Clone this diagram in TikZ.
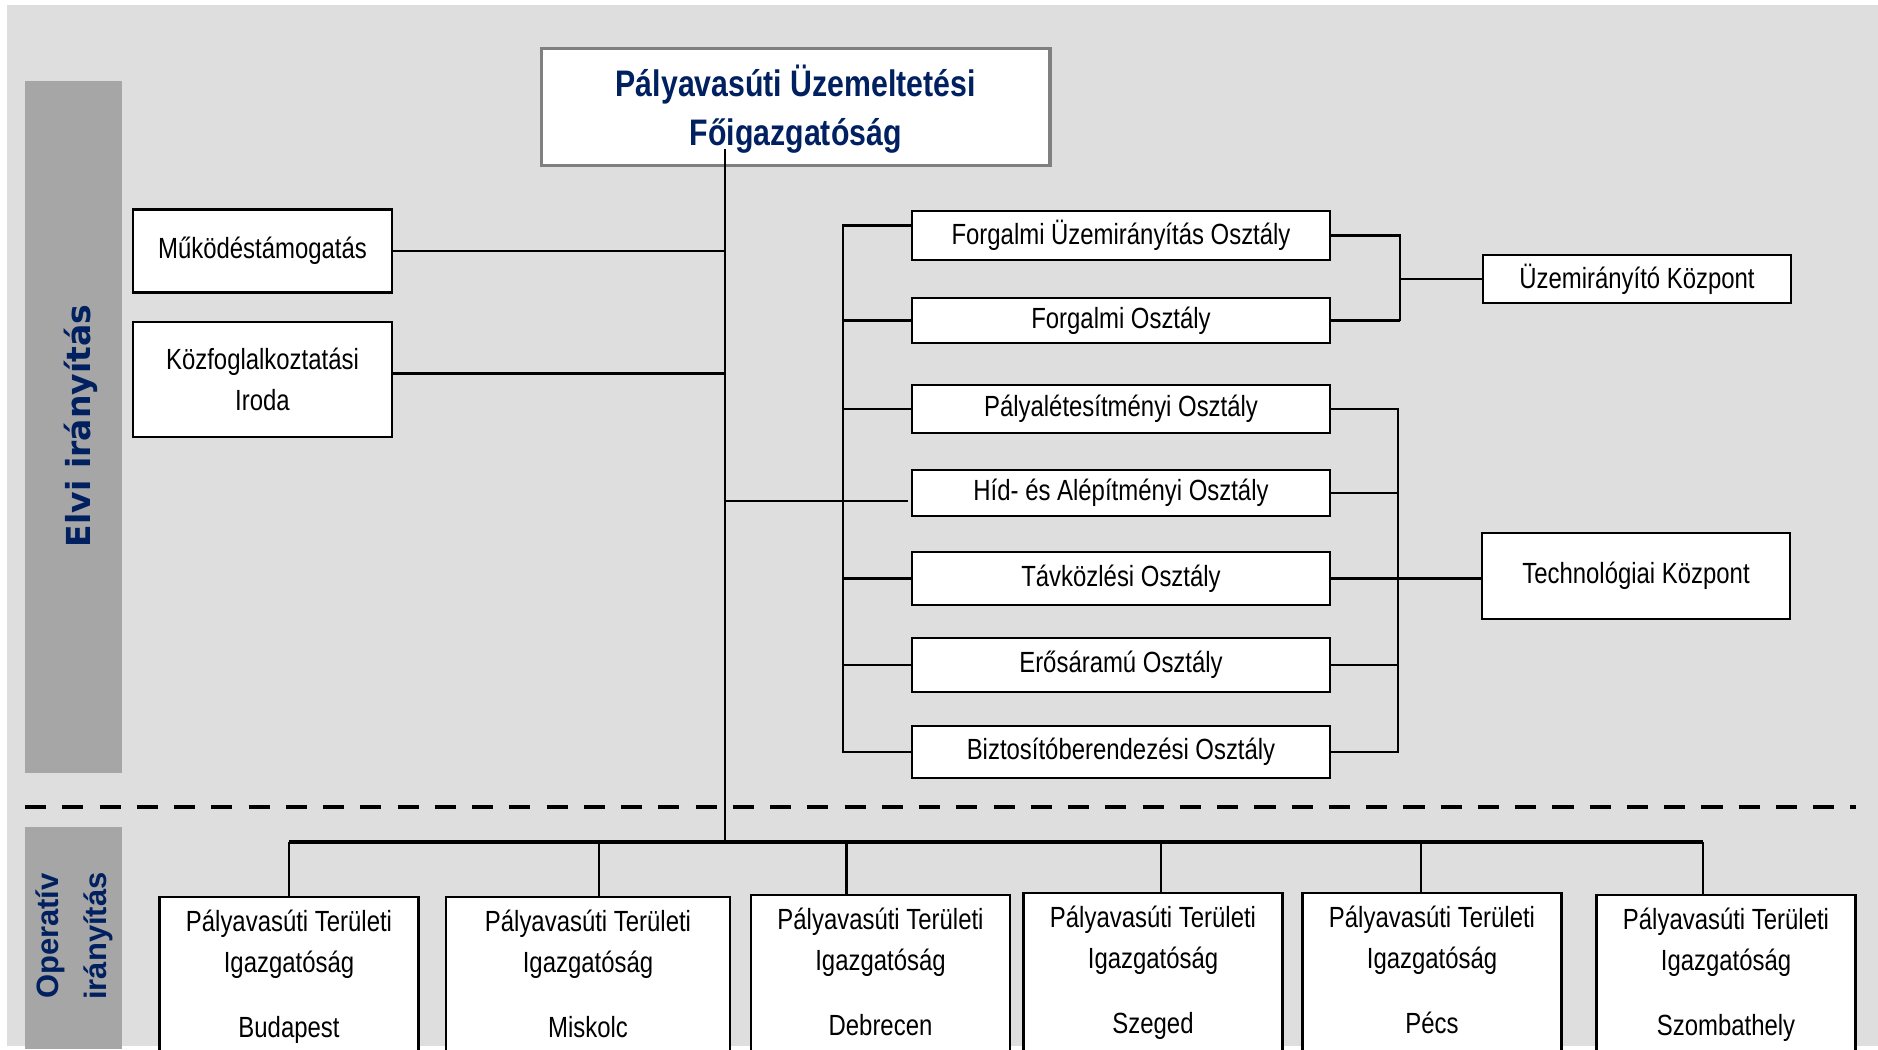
\documentclass[tikz,border=0pt]{standalone}
\usepackage{fontspec}
\setmainfont{Liberation Sans}[FakeStretch=0.82]
\newfontfamily\elvifont{DejaVu Sans}
\newfontfamily\opfont{Liberation Sans}
\usetikzlibrary{calc}

\definecolor{bggray}{HTML}{DEDEDE}
\definecolor{bargray}{HTML}{A6A6A6}
\definecolor{navy}{HTML}{002060}
\definecolor{framegray}{HTML}{808080}

\tikzset{
  orgbox/.style={draw=black, line width=0.6pt, fill=white, inner sep=0pt, align=center,
    font=\fontsize{8.3}{11.7}\selectfont},
  deptbox/.style={orgbox, minimum width=41.8mm},
  hubbox/.style={orgbox, minimum width=30.8mm},
  regionbox/.style={orgbox, anchor=north, minimum width=25.9mm, minimum height=15.9mm},
  wire/.style={line width=0.6pt},
  thickwire/.style={line width=1pt}
}

\begin{document}
\begin{tikzpicture}[x=0.1mm, y=-0.1mm]
  \useasboundingbox (0,0) rectangle (1878,1049);
  \clip (0,0) rectangle (1878,1049);

  % Background and side bars
  \fill[bggray] (7,5) rectangle (1878,1046);
  \fill[bargray] (25,81) rectangle (122,773);
  \fill[bargray] (25,827) rectangle (122,1049);
  \node[rotate=90, anchor=base, text=navy, font=\elvifont\bfseries\fontsize{9.4}{11}\selectfont] (elvi) at (90,426) {Elvi irányítás};
  \node[rotate=90, align=center, text=navy, font=\opfont\bfseries\fontsize{8.8}{13.7}\selectfont] (operativ) at (74,936) {Operatív\\irányítás};

  % Dashed divider
  \draw[line width=1.4pt, dash pattern=on 6pt off 4.6pt] (25,807) -- (1856,807);

  % Head
  \node[orgbox, draw=framegray, line width=0.9pt, minimum width=50.85mm, minimum height=11.65mm, text=navy, font=\bfseries\fontsize{10.5}{14.2}\selectfont] (title) at (795.75,107) {\rule{0pt}{10.2pt}Pályavasúti Üzemeltetési\\Főigazgatóság};

  % Staff units
  \node[orgbox, minimum width=25.9mm, minimum height=8.3mm] (mukodes) at (262.5,251) {Működéstámogatás};
  \node[orgbox, minimum width=25.9mm, minimum height=11.5mm] (kozfogl) at (262.5,379.5) {Közfoglalkoztatási\\Iroda};

  % Departments
  \node[deptbox, minimum height=4.9mm] (fuo) at (1121,235.5) {Forgalmi Üzemirányítás Osztály};
  \node[deptbox, minimum height=4.5mm] (fo) at (1121,320.5) {Forgalmi Osztály};
  \node[deptbox, minimum height=4.75mm] (pal) at (1121,409) {Pályalétesítményi Osztály};
  \node[deptbox, minimum height=4.65mm] (hid) at (1121,493) {Híd- és Alépítményi Osztály};
  \node[deptbox, minimum height=5.3mm] (tav) at (1121,578.5) {Távközlési Osztály};
  \node[deptbox, minimum height=5.4mm] (eros) at (1121,665) {Erősáramú Osztály};
  \node[deptbox, minimum height=5.25mm] (bizt) at (1121,752) {Biztosítóberendezési Osztály};

  % Centres
  \node[hubbox, minimum height=4.75mm] (uzk) at (1637,279) {Üzemirányító Központ};
  \node[hubbox, minimum height=8.6mm] (tech) at (1636,576) {Technológiai Központ};

  % Regional directorates
  \node[regionbox] (bud) at (289,896) {\strut Pályavasúti Területi\\Igazgatóság\\[6.8pt]Budapest\strut};
  \node[regionbox, minimum width=28.4mm] (mis) at (588,896) {\strut Pályavasúti Területi\\Igazgatóság\\[6.8pt]Miskolc\strut};
  \node[regionbox] (deb) at (880.5,894) {\strut Pályavasúti Területi\\Igazgatóság\\[6.8pt]Debrecen\strut};
  \node[regionbox] (sze) at (1153,892) {\strut Pályavasúti Területi\\Igazgatóság\\[6.8pt]Szeged\strut};
  \node[regionbox] (pec) at (1432,892) {\strut Pályavasúti Területi\\Igazgatóság\\[6.8pt]Pécs\strut};
  \node[regionbox] (szo) at (1726,894) {\strut Pályavasúti Területi\\Igazgatóság\\[6.8pt]Szombathely\strut};

  % Trunk
  \coordinate (trunk) at (725,842);
  \draw[wire] ($(title.south -| trunk)+(0,-18)$) -- (trunk);
  \draw[wire] (mukodes.east) -- (mukodes.east -| trunk);
  \draw[wire] ($(kozfogl.east)+(0,-6)$) -- ($(kozfogl.east -| trunk)+(0,-6)$);
  \draw[wire] ($(trunk |- hid.west)+(0,8)$) -- ($(hid.west)+(-3,8)$);

  % Left bracket
  \coordinate (lb) at (843,0);
  \draw[wire] ($(fuo.west)+(0,-10)$) -| (lb |- bizt.west) -- (bizt.west);
  \draw[thickwire] (lb |- fo.west) -- (fo.west);
  \draw[wire] (lb |- pal.west) -- (pal.west);
  \draw[thickwire] (lb |- tav.west) -- (tav.west);
  \draw[wire] (lb |- eros.west) -- (eros.west);

  % Right brackets
  \coordinate (rb) at (1400,0);
  \draw[wire] (fuo.east) -| (rb |- fo.east);
  \draw[thickwire] (rb |- fo.east) -- (fo.east);
  \draw[wire] (rb |- uzk.west) -- (uzk.west);
  \coordinate (rt) at (1398,0);
  \draw[wire] (pal.east) -| (rt |- bizt.east) -- (bizt.east);
  \draw[wire] (hid.east) -- (rt |- hid.east);
  \draw[wire] (eros.east) -- (rt |- eros.east);
  \draw[thickwire] (tav.east) -- (tav.east -| tech.west);

  % Bus to the directorates
  \coordinate (dbud) at (bud.north);
  \coordinate (dmis) at ($(mis.north)+(11,0)$);
  \coordinate (ddeb) at ($(deb.north)+(-34,0)$);
  \coordinate (dsze) at ($(sze.north)+(8,0)$);
  \coordinate (dpec) at ($(pec.north)+(-11,0)$);
  \coordinate (dszo) at ($(szo.north)+(-23,0)$);
  \draw[thickwire] (dbud |- trunk) -- (dszo |- trunk);
  \draw[wire] (dbud) -- (dbud |- trunk);
  \draw[wire] (dmis) -- (dmis |- trunk);
  \draw[wire] (ddeb) -- (ddeb |- trunk);
  \draw[wire] (dsze) -- (dsze |- trunk);
  \draw[wire] (dpec) -- (dpec |- trunk);
  \draw[wire] (dszo) -- (dszo |- trunk);
\end{tikzpicture}
\end{document}
